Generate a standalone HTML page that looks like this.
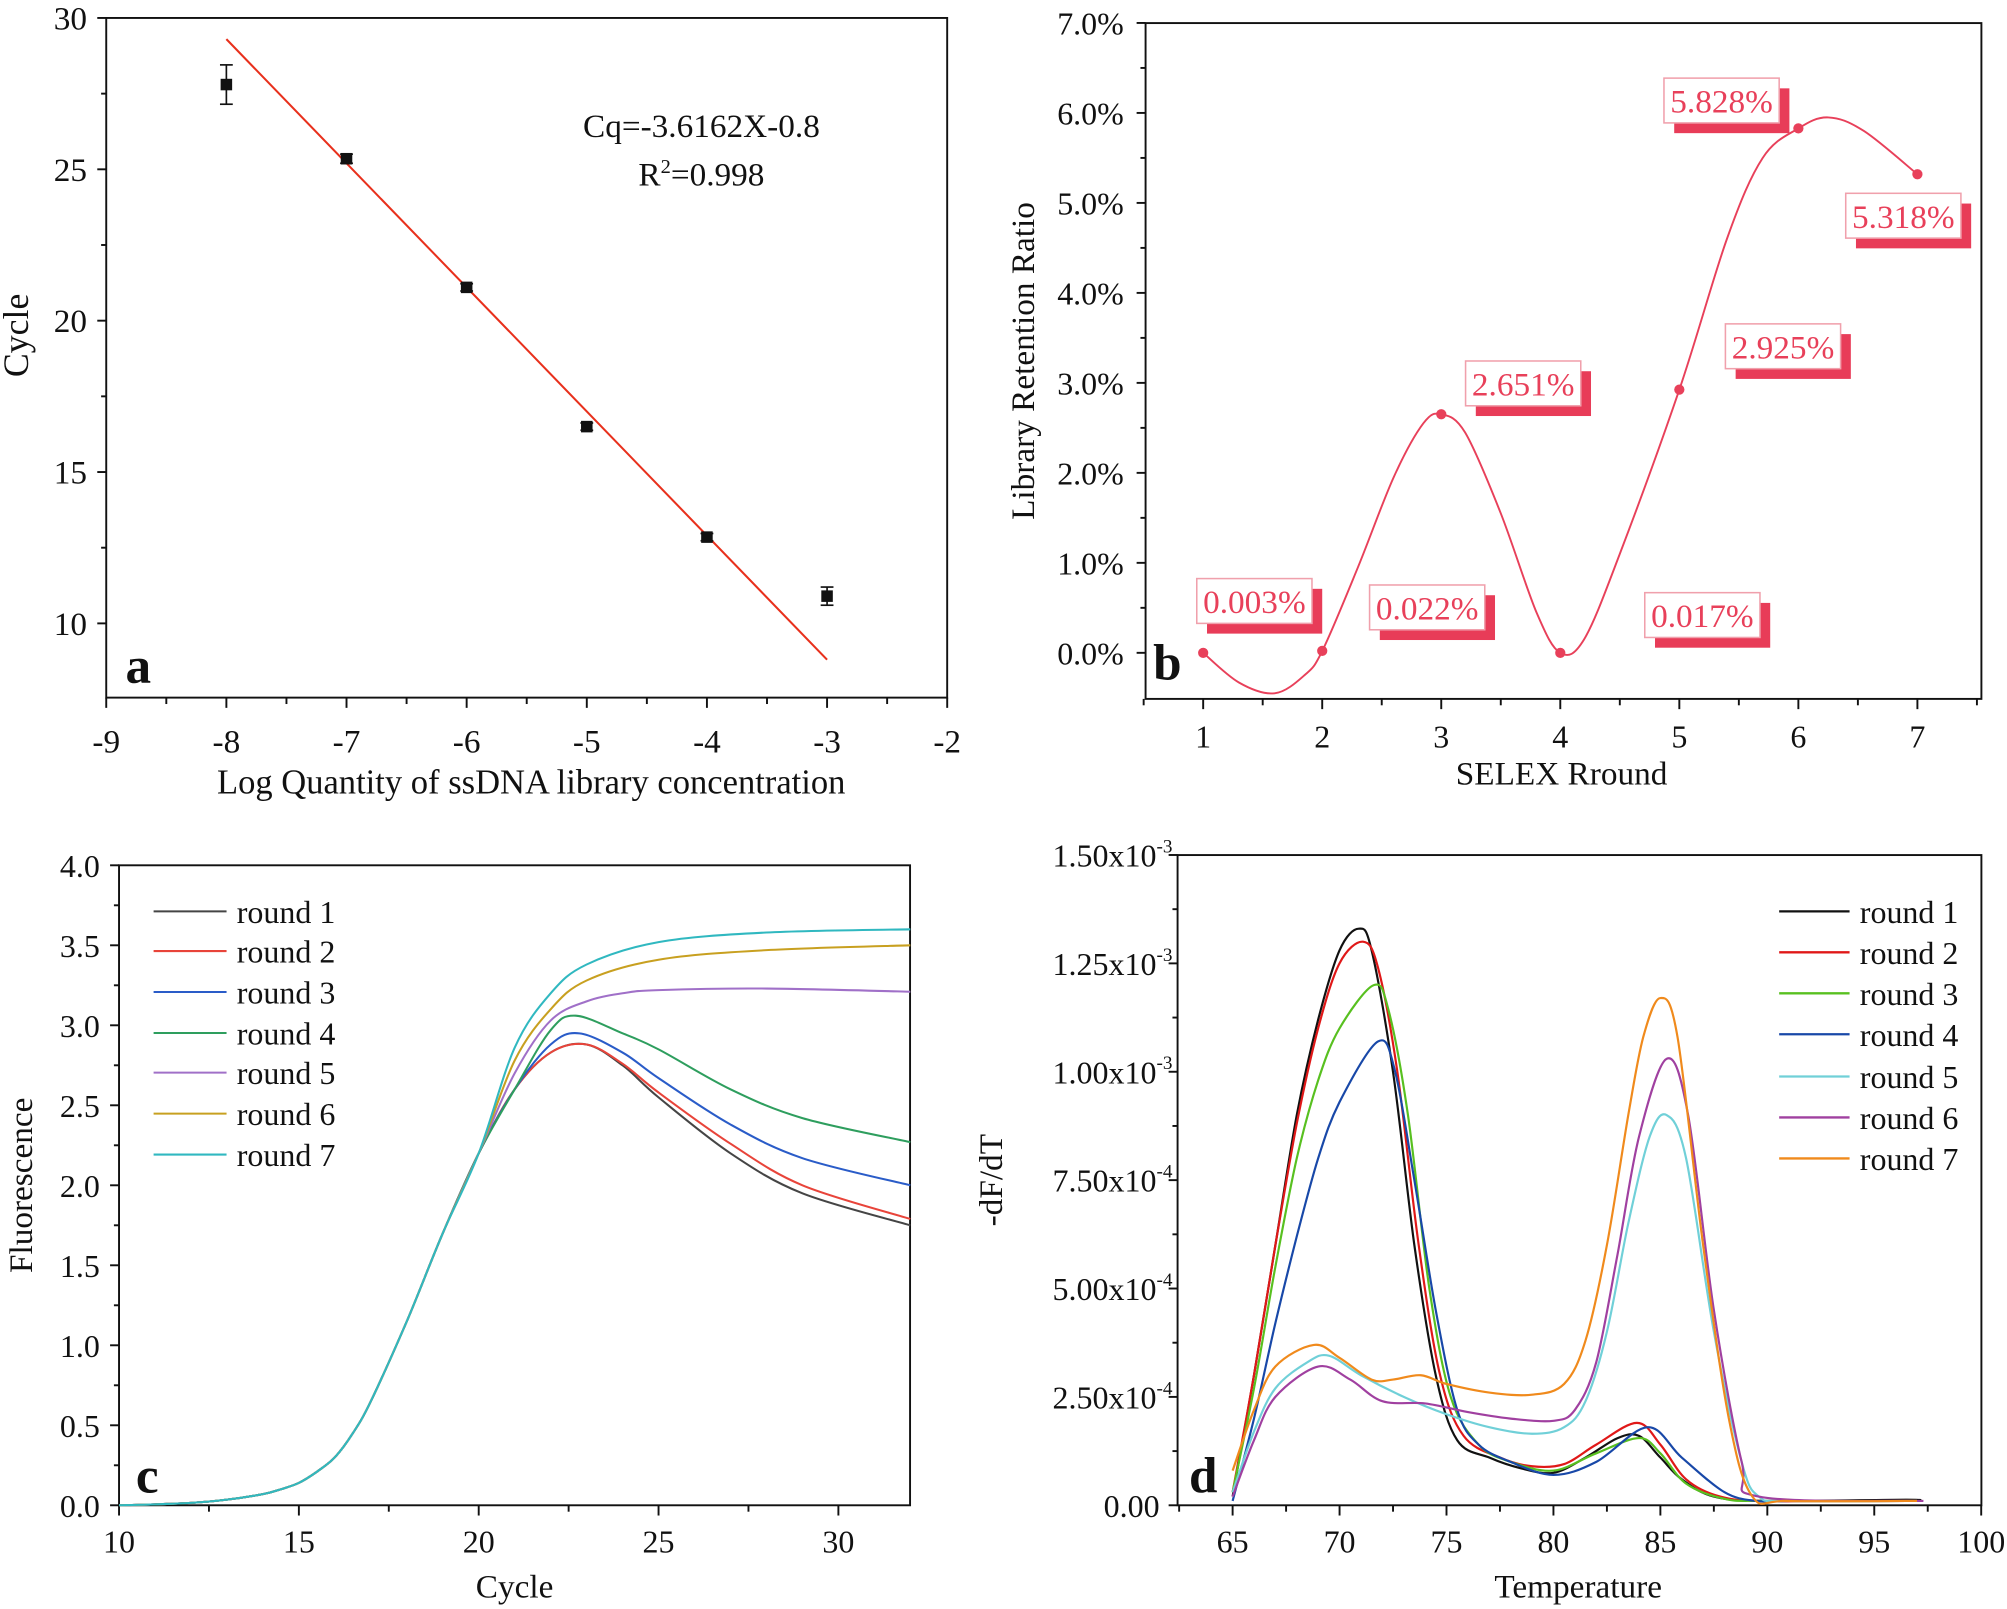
<!DOCTYPE html>
<html><head><meta charset="utf-8"><style>
html,body{margin:0;padding:0;background:#fff;}
svg{display:block;}
text{font-family:"Liberation Serif",serif;fill:#111;}
</style></head><body>
<svg id="s" width="2007" height="1609" viewBox="0 0 1568 1257" xmlns="http://www.w3.org/2000/svg">
<rect width="1568" height="1257" fill="#fff"/>
<g id="g"></g>
</svg>
<script>
var g=document.getElementById('g');var out='';
function L(x1,y1,x2,y2,c,w){out+='<line x1="'+x1+'" y1="'+y1+'" x2="'+x2+'" y2="'+y2+'" stroke="'+(c||'#111')+'" stroke-width="'+(w||1.5)+'"/>';}
function T(x,y,s,sz,anch,extra){out+='<text x="'+x+'" y="'+y+'" font-size="'+(sz||22)+'" text-anchor="'+(anch||'middle')+'" '+(extra||'')+'>'+s+'</text>';}
function cr(pts){var d='M'+pts[0][0].toFixed(1)+','+pts[0][1].toFixed(1);
 for(var i=0;i<pts.length-1;i++){var p0=pts[i>0?i-1:i],p1=pts[i],p2=pts[i+1],p3=pts[i+2<pts.length?i+2:i+1];
 var c1x=p1[0]+(p2[0]-p0[0])/6,c1y=p1[1]+(p2[1]-p0[1])/6,c2x=p2[0]-(p3[0]-p1[0])/6,c2y=p2[1]-(p3[1]-p1[1])/6;
 d+=' C'+c1x.toFixed(1)+','+c1y.toFixed(1)+' '+c2x.toFixed(1)+','+c2y.toFixed(1)+' '+p2[0].toFixed(1)+','+p2[1].toFixed(1);}return d;}
function P(d,c,w){out+='<path d="'+d+'" fill="none" stroke="'+c+'" stroke-width="'+(w||1.6)+'"/>';}
// ---------- Panel a
var ax=function(v){return 83+(v+9)*93.86},ay=function(v){return 14+(30-v)*23.65};
out+='<rect x="83" y="14" width="657" height="531" fill="none" stroke="#111" stroke-width="1.5"/>';
for(var v=10;v<=30;v+=5){L(76,ay(v),83,ay(v));T(68,ay(v)+9,v,26,'end');}
for(var v=12.5;v<30;v+=5){L(79,ay(v),83,ay(v));}
for(var v=-9;v<=-2;v++){L(ax(v),545,ax(v),553);T(ax(v),588,v,26);}
for(var v=-8.5;v<-2;v++){L(ax(v),545,ax(v),550);}
L(ax(-8),ay(29.3),ax(-3),ay(8.8),'#e8301c',1.6);
[[-8,27.8,.65],[-7,25.35,.15],[-6,21.1,.12],[-5,16.5,.12],[-4,12.85,.12],[-3,10.9,.3]].forEach(function(p){
 var x=ax(p[0]),y=ay(p[1]);L(x,ay(p[1]+p[2]),x,ay(p[1]-p[2]),'#111',1.3);L(x-5,ay(p[1]+p[2]),x+5,ay(p[1]+p[2]),'#111',1.3);L(x-5,ay(p[1]-p[2]),x+5,ay(p[1]-p[2]),'#111',1.3);
 out+='<rect x="'+(x-4.5)+'" y="'+(y-4.5)+'" width="9" height="9" fill="#111"/>';});
T(548,107,'Cq=-3.6162X-0.8',26);T(548,145,'R<tspan font-size="16" dy="-10">2</tspan><tspan dy="10">=0.998</tspan>',26);
T(108,533,'a',40,'middle','font-weight="bold"');
T(415,620,'Log Quantity of ssDNA library concentration',27);
T(22,262,'Cycle',28,'middle','transform="rotate(-90 22 262)"');
// ---------- Panel b
var bx=function(v){return 940+(v-1)*93},by=function(v){return 510-v*70.3};
out+='<rect x="895" y="18" width="653" height="528" fill="none" stroke="#111" stroke-width="1.5"/>';
for(var v=0;v<=7;v++){L(888,by(v),895,by(v));T(878,by(v)+9,v.toFixed(1)+'%',25,'end');}
for(var v=0.5;v<7;v++){L(891,by(v),895,by(v));}
for(var v=1;v<=7;v++){L(bx(v),546,bx(v),554);T(bx(v),584,v,25);}
for(var v=0.5;v<=7.5;v++){L(bx(v),546,bx(v),551);}
var rc='#e8405a';
P(cr([[bx(1),by(0)],[bx(1.3),by(-0.33)],[bx(1.6),by(-0.45)],[bx(1.85),by(-0.25)],[bx(2),by(0.02)],[bx(2.3),by(0.95)],[bx(2.6),by(1.95)],[bx(2.85),by(2.55)],[bx(3),by(2.65)],[bx(3.2),by(2.45)],[bx(3.5),by(1.55)],[bx(3.8),by(0.45)],[bx(4),by(0.0)],[bx(4.2),by(0.15)],[bx(4.5),by(1.1)],[bx(5),by(2.925)],[bx(5.4),by(4.6)],[bx(5.7),by(5.5)],[bx(6),by(5.828)],[bx(6.25),by(5.95)],[bx(6.55),by(5.8)],[bx(7),by(5.318)]]),rc,1.5);
[[1,0],[2,0.022],[3,2.651],[4,0],[5,2.925],[6,5.828],[7,5.318]].forEach(function(p){out+='<circle cx="'+bx(p[0])+'" cy="'+by(p[1])+'" r="4" fill="'+rc+'"/>';});
[[935,452,'0.003%'],[1070,457,'0.022%'],[1145,282,'2.651%'],[1285,463,'0.017%'],[1348,253,'2.925%'],[1300,61,'5.828%'],[1442,151,'5.318%']].forEach(function(b){
 out+='<rect x="'+(b[0]+8)+'" y="'+(b[1]+8)+'" width="90" height="35" fill="#e83c58"/>';
 out+='<rect x="'+b[0]+'" y="'+b[1]+'" width="90" height="35" fill="#fff" stroke="#f0a0ac" stroke-width="1.2"/>';
 T(b[0]+45,b[1]+27,b[2],26,'middle','style="fill:#e8405a"');});
T(912,531,'b',40,'middle','font-weight="bold"');
T(1220,613,'SELEX Rround',26);
T(808,282,'Library Retention Ratio',26,'middle','transform="rotate(-90 808 282)"');
// ---------- Panel c
var cx=function(v){return 93+(v-10)*28.1},cy=function(v){return 1176-v*125};
out+='<rect x="93" y="676" width="618" height="500" fill="none" stroke="#111" stroke-width="1.5"/>';
for(var v=0;v<=4;v+=0.5){L(86,cy(v),93,cy(v));T(78,cy(v)+9,v.toFixed(1),25,'end');}
for(var v=0.25;v<4;v+=0.5){L(89,cy(v),93,cy(v));}
for(var v=10;v<=30;v+=5){L(cx(v),1176,cx(v),1184);T(cx(v),1213,v,25);}
for(var v=12.5;v<=32;v+=5){L(cx(v),1176,cx(v),1181);}
var base=[[10,0],[11,0.006],[12,0.015],[13,0.035],[14,0.07],[14.5,0.1],[15,0.14],[15.5,0.21],[16,0.3],[16.5,0.45],[17,0.65],[18,1.15],[19,1.7],[20,2.2]];
var ccurv=[
 ['#454545',[[22,2.83],[23,2.88],[24,2.75],[25,2.55],[27,2.2],[29,1.95],[32,1.75]]],
 ['#e8443a',[[22,2.83],[23,2.88],[24,2.76],[25,2.58],[27,2.26],[29,2.0],[32,1.79]]],
 ['#2a5cc8',[[22,2.88],[22.8,2.95],[24,2.83],[25,2.67],[27,2.38],[29,2.17],[32,2.0]]],
 ['#2e9e5e',[[22,2.97],[22.7,3.06],[24,2.95],[25,2.85],[27,2.6],[29,2.42],[32,2.27]]],
 ['#a070c8',[[22,3.03],[23,3.15],[24,3.2],[25,3.22],[28,3.23],[32,3.21]]],
 ['#c8a020',[[22,3.1],[23,3.28],[25,3.41],[28,3.47],[32,3.5]]],
 ['#30b8c0',[[22,3.2],[23,3.38],[25,3.52],[28,3.58],[32,3.6]]]];
ccurv.forEach(function(c,i){var pts=base.concat(i>=4?[[21,2.62+0.08*(i-3)]]:[[21,2.6]]).concat(c[1]);
 P(cr(pts.map(function(p){return [cx(p[0]),cy(p[1])]})),c[0],1.6);
 var yy=[712,743,775,807,838,870,902][i];L(120,yy,177,yy,c[0],1.6);T(185,yy+9,'round '+(i+1),25,'start');});
T(115,1166,'c',40,'middle','font-weight="bold"');
T(402,1248,'Cycle',26);
T(25,926,'Fluorescence',26,'middle','transform="rotate(-90 25 926)"');
// ---------- Panel d
var dx=function(v){return 963+(v-65)*16.71},dy=function(v){return 1176-v*338.7};
out+='<rect x="920" y="668" width="628" height="508" fill="none" stroke="#111" stroke-width="1.5"/>';
var lab=['0.00','2.50x10<tspan font-size="15" dy="-11">-4</tspan>','5.00x10<tspan font-size="15" dy="-11">-4</tspan>','7.50x10<tspan font-size="15" dy="-11">-4</tspan>','1.00x10<tspan font-size="15" dy="-11">-3</tspan>','1.25x10<tspan font-size="15" dy="-11">-3</tspan>','1.50x10<tspan font-size="15" dy="-11">-3</tspan>'];
for(var i=0;i<=6;i++){var v=i*0.25;L(913,dy(v),920,dy(v));T(i==0?906:916,dy(v)+9,lab[i],25,'end');}
for(var v=0.125;v<1.5;v+=0.25){L(916,dy(v),920,dy(v));}
for(var v=65;v<=100;v+=5){L(dx(v),1176,dx(v),1184);T(dx(v),1213,v,25);}
for(var v=62.5;v<100;v+=5){L(dx(v),1176,dx(v),1181);}
var dc=[
 ['#111',[[65,0.02],[66,0.3],[67,0.6],[68,0.9],[69,1.12],[70,1.28],[70.9,1.33],[71.5,1.28],[72.5,1.0],[73.5,0.6],[74.5,0.3],[75.5,0.15],[77,0.11],[78.5,0.085],[80,0.075],[81.5,0.11],[83,0.155],[84,0.16],[85,0.11],[86,0.06],[87.5,0.02],[90,0.01],[96.5,0.013],[97,0.01]]],
 ['#e01818',[[65,0.03],[66,0.3],[67,0.6],[68,0.88],[69,1.1],[70,1.25],[71.1,1.30],[71.8,1.24],[72.7,1.0],[73.7,0.6],[74.7,0.3],[75.8,0.16],[77.5,0.11],[79,0.09],[80.5,0.095],[82,0.14],[83.9,0.19],[85,0.14],[86.2,0.06],[87.8,0.02],[90,0.01],[97,0.01]]],
 ['#58c020',[[65,0.03],[66,0.27],[67,0.55],[68,0.8],[69,0.98],[70,1.1],[71.6,1.2],[72.3,1.14],[73.2,0.9],[74.2,0.5],[75.2,0.25],[76.5,0.14],[78,0.1],[80,0.08],[82,0.12],[84,0.155],[85,0.12],[86.2,0.05],[88,0.015],[90,0.01],[97,0.01]]],
 ['#1848a8',[[65,0.01],[66,0.2],[67,0.42],[68,0.62],[69,0.8],[70,0.93],[71.8,1.07],[72.6,1.0],[73.5,0.75],[74.5,0.45],[75.5,0.22],[76.5,0.14],[78,0.1],[80,0.07],[82,0.1],[84.4,0.18],[86,0.11],[88,0.03],[89.5,0.01],[91,0.01]]],
 ['#70d0d8',[[65,0.03],[66,0.17],[67,0.27],[68.5,0.33],[69.5,0.345],[71,0.3],[73,0.25],[75,0.21],[77,0.18],[79,0.165],[80.5,0.18],[81.5,0.24],[82.5,0.4],[83.5,0.65],[84.5,0.85],[85.3,0.9],[86.2,0.8],[87.5,0.4],[88.8,0.1],[89.6,0.02],[91,0.01],[97,0.01]]],
 ['#a040a0',[[65,0.02],[66,0.15],[67,0.25],[69,0.32],[70.5,0.29],[72,0.24],[74,0.235],[76,0.215],[78,0.2],[80,0.195],[81,0.22],[82,0.33],[83,0.58],[84,0.85],[85.3,1.03],[86.3,0.9],[87.5,0.45],[88.8,0.1],[89.6,0.02],[97.3,0.01]]],
 ['#f08a1c',[[65,0.08],[66,0.22],[67,0.32],[68.8,0.37],[70,0.34],[71.5,0.29],[72.5,0.29],[73.8,0.3],[75,0.28],[77,0.26],[79,0.255],[80.5,0.28],[81.5,0.38],[82.5,0.6],[83.5,0.9],[84.2,1.08],[85,1.17],[85.8,1.08],[87,0.6],[88.2,0.2],[89.3,0.02],[91,0.01],[97,0.01]]]];
dc.forEach(function(c,i){P(cr(c[1].map(function(p){return [dx(p[0]),dy(p[1])]})),c[0],1.7);
 var yy=[712,744,776,808,841,873,905][i];L(1390,yy,1445,yy,c[0],1.8);T(1453,yy+9,'round '+(i+1),25,'start');});
T(940,1166,'d',40,'middle','font-weight="bold"');
T(1233,1248,'Temperature',26);
T(783,922,'-dF/dT',26,'middle','transform="rotate(-90 783 922)"');
g.innerHTML=out;
</script>
</body></html>
